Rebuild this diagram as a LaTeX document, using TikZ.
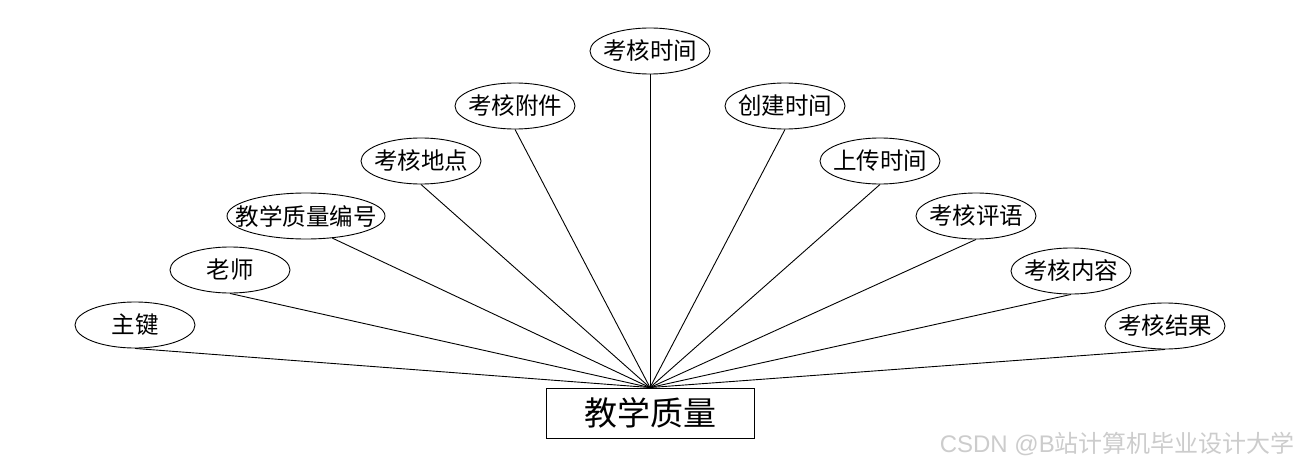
\documentclass[tikz,border=0pt]{standalone}
\usepackage{fontspec}
\newfontfamily\cjk{Noto Sans CJK SC}
\newfontfamily\latn{Liberation Sans}
\usepackage{tikz}
\usetikzlibrary{shapes}
\newcommand{\attrname}[1]{\makebox[0pt]{#1}}

\begin{document}
\begin{tikzpicture}[x=1pt, y=-1pt,
  attr/.style={draw, ellipse, line width=0.9pt, minimum width=120pt, minimum height=46pt, inner sep=0pt, font=\cjk\fontsize{23.5}{23.5}\selectfont},
  entity/.style={draw, rectangle, line width=0.9pt, minimum width=208pt, minimum height=50pt, inner sep=0pt, font=\cjk\fontsize{33}{33}\selectfont},
  link/.style={line width=0.9pt}]
  \useasboundingbox (0,0) rectangle (1300,468);
  \node[entity] (quality) at (650,413) {教学质量};
  \node[attr] (pk) at (135,325) {\attrname{主键}};
  \node[attr] (teacher) at (230,270) {\attrname{老师}};
  \node[attr, minimum width=158pt] (code) at (306,216) {\attrname{教学质量编号}};
  \node[attr] (place) at (421,161) {\attrname{考核地点}};
  \node[attr] (file) at (515,106) {\attrname{考核附件}};
  \node[attr] (time) at (650,51) {\attrname{考核时间}};
  \node[attr] (created) at (785,106) {\attrname{创建时间}};
  \node[attr] (uploaded) at (880,161) {\attrname{上传时间}};
  \node[attr] (comment) at (976,216) {\attrname{考核评语}};
  \node[attr] (content) at (1071,271) {\attrname{考核内容}};
  \node[attr] (result) at (1165,326) {\attrname{考核结果}};
  % connectors to the entity
  \foreach \a in {pk,teacher,place,file,time,created,uploaded,comment,content,result}
    \draw[link] (\a.south) -- (quality.north);
  \draw[link] (code.-40) -- (quality.north);
  \node[anchor=base east, inner sep=0pt, text=gray!40, font=\cjk\fontsize{24}{24}\selectfont] (mark) at (1295,452) {{\latn CSDN @B}站计算机毕业设计大学};
\end{tikzpicture}
\end{document}
